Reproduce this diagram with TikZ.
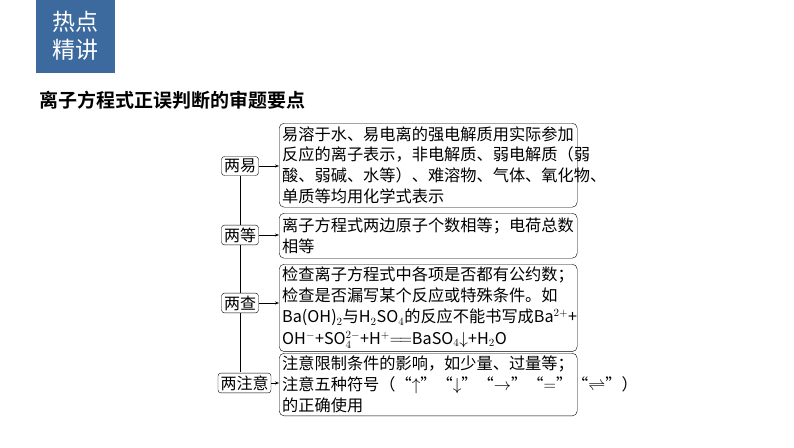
\documentclass[tikz,border=0pt]{standalone}
\usepackage{fontspec}
\setmainfont{Noto Sans CJK SC}
\newfontfamily\cjkbold{Noto Sans CJK SC Bold}
\usetikzlibrary{arrows.meta}
\definecolor{headblue}{HTML}{3C6A9E}
\tikzset{
  tag/.style={draw=black,rounded corners=3pt,inner sep=2.5pt,font=\fontsize{16}{18}\selectfont},
  note/.style={draw=black,rounded corners=5pt,inner sep=3pt,anchor=north west,align=left,
    text width=292pt,font=\fontsize{16.2}{20.8}\selectfont},
  link/.style={-{Stealth[length=4pt,width=3pt]},line width=0.6pt}
}
\begin{document}
\begin{tikzpicture}[x=1pt,y=-1pt]
\useasboundingbox (0,0) rectangle (794,447);
\fill[headblue] (36,0) rectangle (115,73);
\node[text=white,align=center,font=\fontsize{23}{28}\selectfont] (head) at (75.5,36) {热点\\精讲};
\node[anchor=west,font=\cjkbold\fontsize{19}{22}\selectfont] (title) at (36,100) {离子方程式正误判断的审题要点};

\node[note,minimum height=84pt] (b1) at (279,123) {易溶于水、易电离的强电解质用实际参加\\反应的离子表示，非电解质、弱电解质（弱\\酸、弱碱、水等）、难溶物、气体、氧化物、\\单质等均用化学式表示};
\node[note,minimum height=45pt] (b2) at (279,213) {离子方程式两边原子个数相等；电荷总数\\相等};
\node[note,minimum height=85pt] (b3) at (279,264) {检查离子方程式中各项是否都有公约数；\\检查是否漏写某个反应或特殊条件。如\\Ba(OH)$_2$与H$_2$SO$_4$的反应不能书写成Ba$^{2+}$+\\[1pt]OH$^-$+SO$_4^{2-}$+H$^+$$=\!=$BaSO$_4$$\downarrow$+H$_2$O};
\node[note,minimum height=61pt] (b4) at (279,353) {注意限制条件的影响，如少量、过量等；\\注意五种符号（“$\uparrow$”“$\downarrow$”“$\rightarrow$”“$=$”“$\rightleftharpoons$”）\\的正确使用};

\node[tag] (t1) at (240,166) {两易};
\node[tag] (t2) at (240,235) {两等};
\node[tag] (t3) at (240,303) {两查};
\node[tag] (t4) at (244.5,383) {两注意};

\draw[line width=0.6pt] (t1) -- (t2) -- (t3) -- (240,372);
\draw[link] (t1) -- (b1.west |- t1);
\draw[link] (t2) -- (b2.west |- t2);
\draw[link] (t3) -- (b3.west |- t3);
\draw[link] (t4) -- (b4.west |- t4);
\end{tikzpicture}
\end{document}
